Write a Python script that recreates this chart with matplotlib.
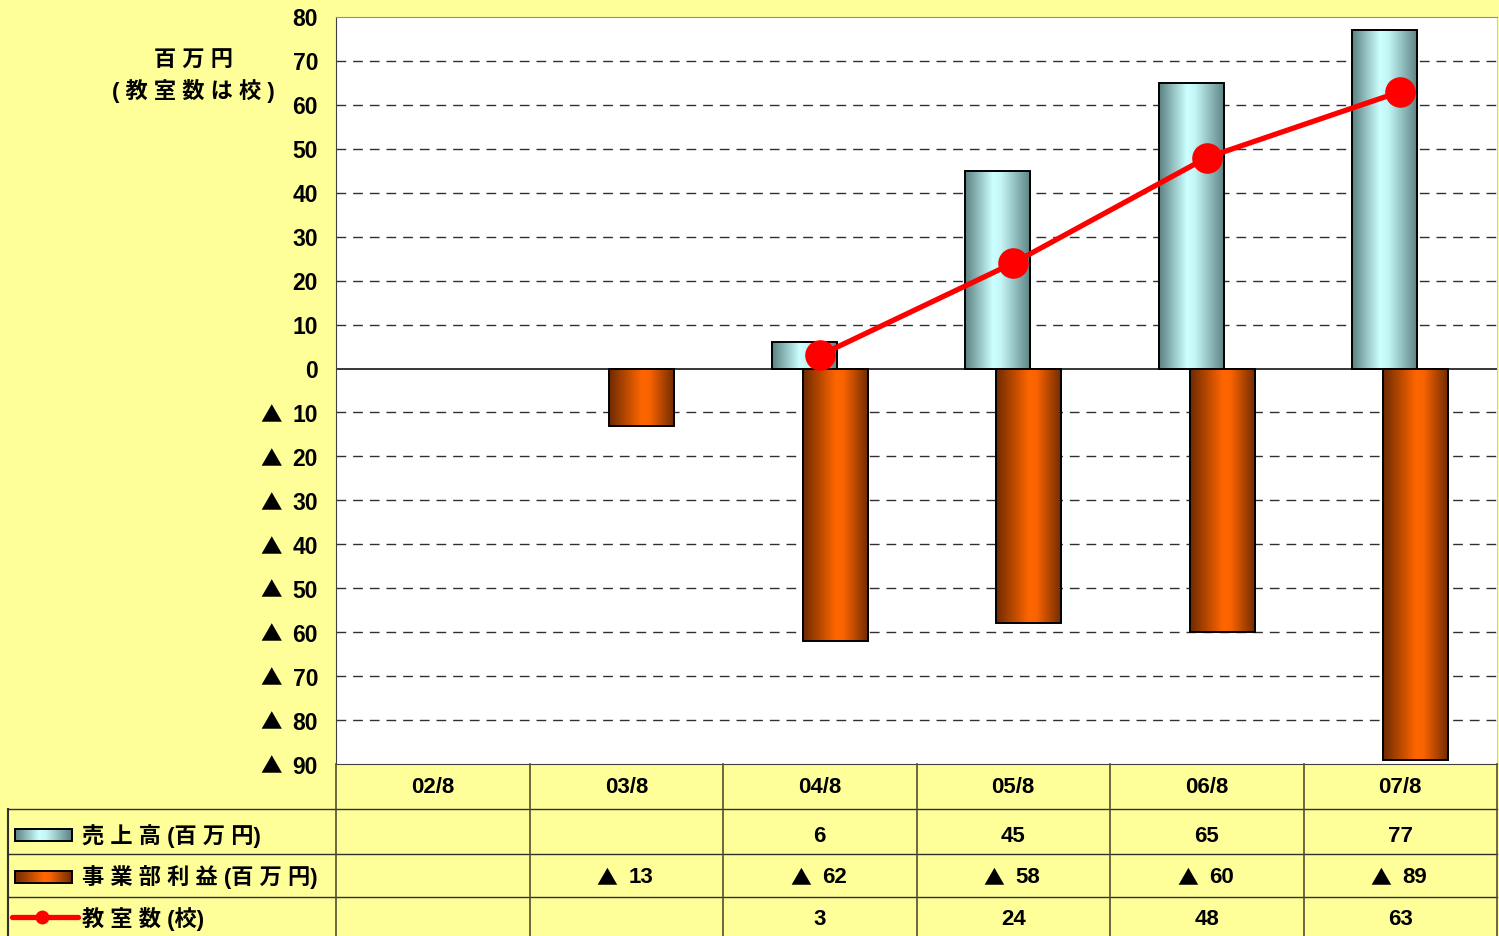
import numpy as np
import matplotlib.pyplot as plt
from matplotlib.colors import LinearSegmentedColormap
from matplotlib.patches import Rectangle
from matplotlib.lines import Line2D
from matplotlib.transforms import offset_copy

plt.rcParams['font.family'] = ['Liberation Sans', 'Noto Sans CJK JP', 'DejaVu Sans']
plt.rcParams['font.weight'] = 'bold'

# data
periods = ['02/8', '03/8', '04/8', '05/8', '06/8', '07/8']
sales = [np.nan, np.nan, 6, 45, 65, 77]          # 売上高（百万円）
profit = [np.nan, -13, -62, -58, -60, -89]       # 事業部利益（百万円）
schools = [np.nan, np.nan, 3, 24, 48, 63]        # 教室数（校）
row_names = ['売上高(百万円)', '事業部利益(百万円)', '教室数(校)']
yticks = list(range(80, -100, -10))

BG = '#ffff99'
CJK = ['Noto Sans CJK JP', 'DejaVu Sans']
cyan_cm = LinearSegmentedColormap.from_list(
    'cy', [(0, '#5b8181'), (0.42, '#ccffff'), (0.55, '#c4f6f6'), (1, '#5c8282')])
orange_cm = LinearSegmentedColormap.from_list(
    'or', [(0, '#6e2a00'), (0.5, '#ff6600'), (0.62, '#f96300'), (1, '#6e2a00')])


def spaced(s):
    return ' '.join(s)


def grad_bar(ax, x, w, y0, y1, cmap, z=2, clip=True):
    g = np.linspace(0, 1, 128).reshape(1, -1)
    ax.imshow(g, cmap=cmap, extent=(x - w / 2, x + w / 2, y0, y1),
              aspect='auto', zorder=z, interpolation='bilinear', clip_on=clip)
    ax.add_patch(Rectangle((x - w / 2, y0), w, y1 - y0, fill=False,
                           ec='black', lw=1.4, zorder=z + 0.1, clip_on=clip))


def tri_num(ax, x, y, v, trans, tri_dx, num_dx, fs, ha='left', dy=-2):
    # draw "▲ nn" with the triangle in a CJK font
    if v < 0:
        ax.text(x, y, '▲', transform=offset_copy(trans, fig=fig, x=tri_dx, y=dy, units='dots'),
                ha='center', va='center', fontsize=fs - 1, family=CJK, clip_on=False)
    ax.text(x, y, str(abs(int(v))), transform=offset_copy(trans, fig=fig, x=num_dx, y=dy, units='dots'),
            ha=ha, va='center', fontsize=fs, fontweight='bold', clip_on=False)


fig = plt.figure(figsize=(14.99, 9.37), dpi=100)
fig.patch.set_facecolor(BG)

ax = fig.add_axes([336 / 1499, 1 - 765 / 937, 1161 / 1499, 747 / 937])
ax.set_facecolor('white')

x = np.arange(len(periods))
bw = 0.336
off = 0.08
for i in x:
    if not np.isnan(sales[i]):
        grad_bar(ax, i - off, bw, 0, sales[i], cyan_cm)
    if not np.isnan(profit[i]):
        grad_bar(ax, i + off, bw, profit[i], 0, orange_cm)

ax.plot(x, schools, color='#ff0000', lw=3.8, marker='o', markersize=21,
        zorder=5, solid_capstyle='round')

for v in yticks:
    if v == 0:
        ax.axhline(0, color='black', lw=1.1, zorder=1)
    elif v not in (80, -90):
        ax.axhline(v, color='#303030', lw=1, ls=(0, (7, 5)), zorder=1)

ax.set_xlim(-0.5, 5.5)
ax.set_ylim(-90, 80)
ax.set_xticks([])
ax.set_yticks([])
ytr = ax.get_yaxis_transform()
for v in yticks:
    tri_num(ax, 0, v, v, ytr, -65, -18, 16.5, ha='right')
for s in ['left', 'bottom']:
    ax.spines[s].set_color('#404040')
ax.spines['top'].set_color('#909090')
ax.spines['right'].set_color('#d0d0b0')

fig.text(193 / 1499, 1 - 61 / 937, spaced('百万円'), ha='center', va='center',
         fontsize=16, fontweight='bold')
fig.text(193 / 1499, 1 - 91 / 937, '( ' + spaced('教室数は校') + ' )', ha='center',
         va='center', fontsize=16, fontweight='bold')

# data table
unit = 1161 / 6
left = -0.5 - (336 - 8) / unit
tax = fig.add_axes([8 / 1499, 0, 1489 / 1499, 172 / 937])
tax.axis('off')
tax.set_xlim(left, 5.5)
tax.set_ylim(937, 765)

row_lines = [810, 855, 898]
row_mid = [837, 878, 920]
lc = '#303030'
for r in row_lines:
    tax.add_line(Line2D([left, 5.5], [r, r], color=lc, lw=1, clip_on=False))
for k in range(7):
    tax.add_line(Line2D([k - 0.5, k - 0.5], [765, 937], color='#505030', lw=1.2, clip_on=False))
tax.add_line(Line2D([left, left], [810, 937], color=lc, lw=1.5, clip_on=False))

dtr = tax.transData
for i, p in enumerate(periods):
    tax.text(i, 788, p, ha='center', va='center', fontsize=16, fontweight='bold')
    for r, ser in enumerate([sales, profit, schools]):
        if np.isnan(ser[i]):
            continue
        if ser[i] < 0:
            tri_num(tax, i, row_mid[r], ser[i], dtr, -19, 2, 16, dy=0)
        else:
            tax.text(i, row_mid[r], str(int(ser[i])), ha='center', va='center',
                     fontsize=16, fontweight='bold')

px = lambda p: left + (p - 8) / unit
for r, name in enumerate(row_names):
    tax.text(px(82), row_mid[r] - 1, spaced(name).replace('( ', '(').replace(' )', ')'),
             ha='left', va='center', fontsize=16, fontweight='bold')
icon_c = (px(15) + px(72)) / 2
icon_w = px(72) - px(15)
grad_bar(tax, icon_c, icon_w, 842, 830, cyan_cm, clip=False)
grad_bar(tax, icon_c, icon_w, 884, 872, orange_cm, clip=False)
tax.plot([px(12), px(78)], [918, 918], color='#ff0000', lw=3.8,
         solid_capstyle='round', clip_on=False)
tax.plot([px(42)], [918], 'o', color='#ff0000', markersize=9, clip_on=False)
tax.set_xlim(left, 5.5)
tax.set_ylim(937, 765)

fig.savefig('out.png', dpi=100, facecolor=BG)
